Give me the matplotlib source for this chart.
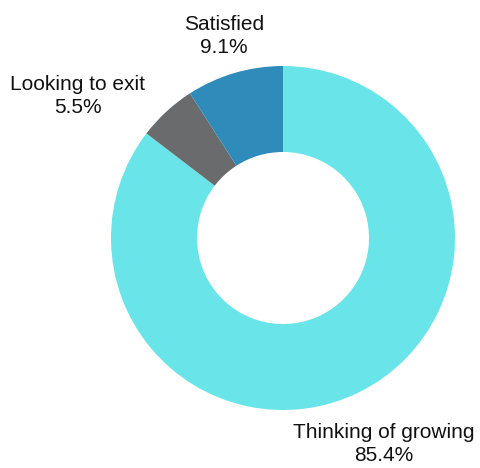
import matplotlib.pyplot as plt

labels = ['Thinking of growing', 'Looking to exit', 'Satisfied']
shares = [85.4, 5.5, 9.1]
colors = ['#69E4E8', '#6A6B6D', '#2E8BBA']

# where each label sits (pixels from top-left)
label_pos = [(384, 444), (78, 96), (224, 36)]

plt.rcParams['font.family'] = ['Liberation Sans', 'DejaVu Sans']

W, H = 480, 468
fig = plt.figure(figsize=(W / 100, H / 100), dpi=100)
ax = fig.add_axes([0, 0, 1, 1])

ax.pie(shares, colors=colors, startangle=90, counterclock=False,
       center=(283, H - 238), radius=172,
       wedgeprops=dict(width=86, linewidth=0))

for lab, val, (x, y) in zip(labels, shares, label_pos):
    ax.text(x, H - y, f'{lab}\n{val:.1f}%', ha='center', va='center',
            fontsize=15, linespacing=1.25, color='#111111')

ax.set_xlim(0, W)
ax.set_ylim(0, H)
ax.set_aspect('equal')
ax.axis('off')

fig.savefig('out.png', dpi=100)
